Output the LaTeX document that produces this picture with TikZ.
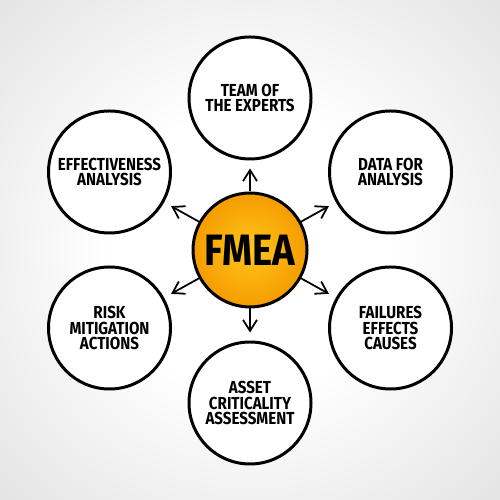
\documentclass[tikz,border=0pt]{standalone}
\usepackage{fontspec}
\newfontfamily\handfont{Fira Sans}[FakeStretch=0.87]
\usepackage{xcolor}
\usepackage{tikz}
\usetikzlibrary{positioning,arrows.meta}
\definecolor{fmeacore}{HTML}{FFC619}
\definecolor{fmearim}{HTML}{F59C00}
\pgfdeclareradialshading{backglow}{\pgfpoint{0bp}{0bp}}{color(0bp)=(white);color(14bp)=(white);color(36bp)=(black!11);color(50bp)=(black!11)}
\pgfdeclareradialshading{fmeaglow}{\pgfpoint{0bp}{0bp}}{color(0bp)=(fmeacore);color(25bp)=(fmearim);color(50bp)=(fmearim)}

\begin{document}
\begin{tikzpicture}[
  font=\handfont\bfseries, >={Straight Barb[length=0.22cm,width=0.28cm]},
  bubble/.style={circle,draw,fill=white,line width=1.7pt,minimum size=2.44cm,inner sep=0pt,align=center,font=\handfont\bfseries\fontsize{9.9}{8.6}\selectfont},
  hub/.style={circle,draw,line width=1.7pt,minimum size=2.28cm,inner sep=0pt,shading=fmeaglow,font=\handfont\bfseries\fontsize{25}{25}\selectfont},
  link/.style={->,line width=1pt,shorten >=0.16cm}
]
\shade[shading=backglow] (0,0) rectangle (10,10);
\node[hub] (fmea) at (5,5) {FMEA};
\node[bubble,on grid,above=3.04cm of fmea] (team) {TEAM OF\\THE EXPERTS};
\node[bubble,on grid,above left=1.56cm and 2.81cm of fmea] (eff) {EFFECTIVENESS\\ANALYSIS};
\node[bubble,on grid,above right=1.56cm and 2.81cm of fmea] (data) {DATA FOR\\ANALYSIS};
\node[bubble,on grid,below left=1.56cm and 2.81cm of fmea] (risk) {RISK\\MITIGATION\\ACTIONS};
\node[bubble,on grid,below right=1.56cm and 2.81cm of fmea] (fail) {FAILURES\\EFFECTS\\CAUSES};
\node[bubble,on grid,below=3.06cm of fmea] (asset) {ASSET\\CRITICALITY\\ASSESSMENT};
\draw[link] (fmea) -- (team);
\draw[link] (fmea) -- (eff);
\draw[link] (fmea) -- (data);
\draw[link] (fmea) -- (risk);
\draw[link] (fmea) -- (fail);
\draw[link] (fmea) -- (asset);
\end{tikzpicture}
\end{document}
